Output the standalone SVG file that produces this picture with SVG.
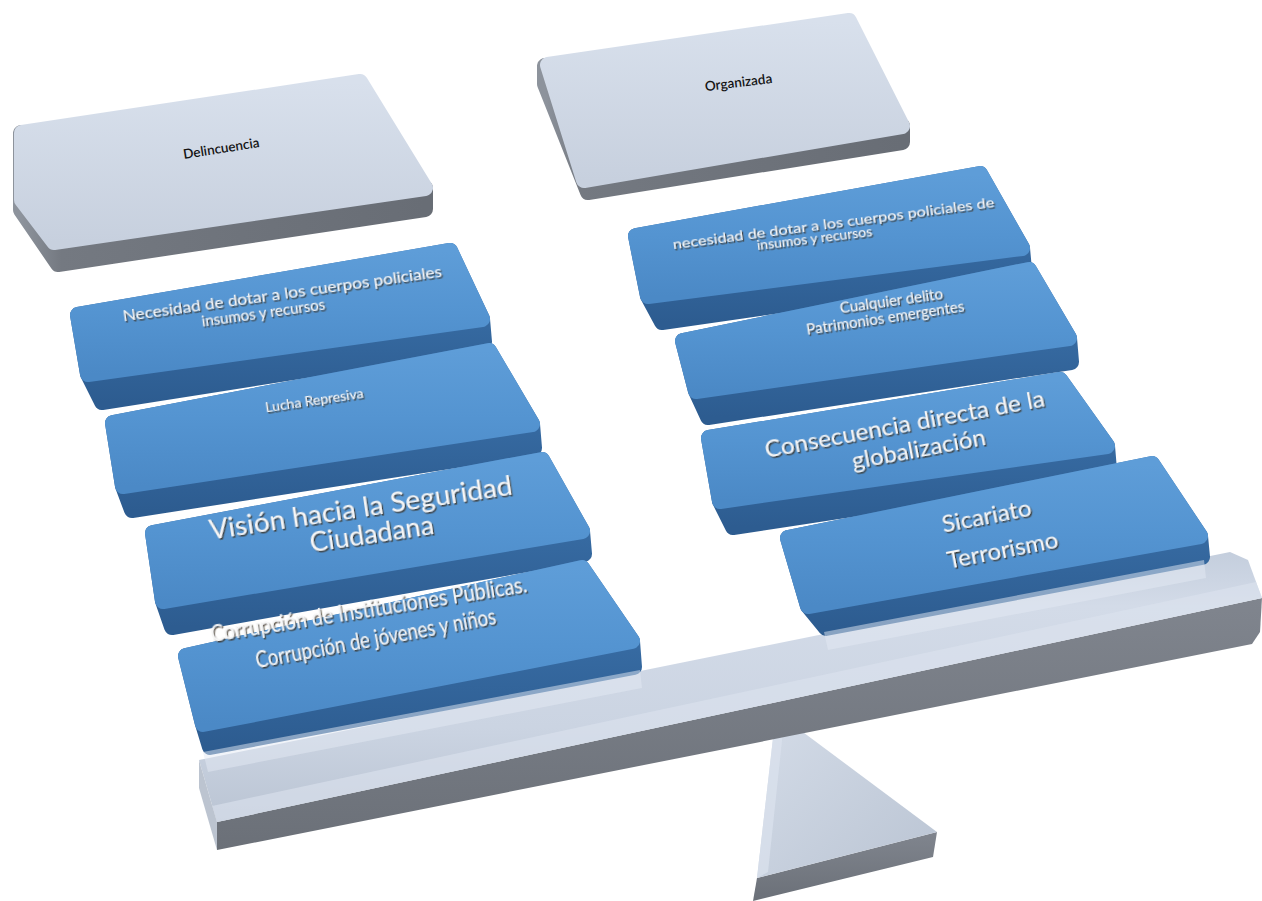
<svg xmlns="http://www.w3.org/2000/svg" width="1262" height="901" viewBox="0 0 1262 901">
  <defs>
    <linearGradient id="blueTop" x1="0" y1="0" x2="0" y2="1">
      <stop offset="0" stop-color="#5E9DD8"/>
      <stop offset="0.5" stop-color="#5494D1"/>
      <stop offset="1" stop-color="#4B89C6"/>
    </linearGradient>
    <linearGradient id="blueSide" x1="0" y1="0" x2="0" y2="1">
      <stop offset="0" stop-color="#3E76B0"/>
      <stop offset="1" stop-color="#2D5C90"/>
    </linearGradient>
    <linearGradient id="greyTop" x1="0" y1="0" x2="0" y2="1">
      <stop offset="0" stop-color="#D8E0EC"/>
      <stop offset="1" stop-color="#C7D0DE"/>
    </linearGradient>
    <linearGradient id="greyBody" x1="0" y1="0" x2="1" y2="0">
      <stop offset="0" stop-color="#8D939C"/>
      <stop offset="0.1" stop-color="#747981"/>
      <stop offset="1" stop-color="#686D75"/>
    </linearGradient>
    <linearGradient id="beamTop" x1="0" y1="0" x2="0" y2="1">
      <stop offset="0" stop-color="#C4CEDD"/>
      <stop offset="0.2" stop-color="#D3DBE8"/>
      <stop offset="0.65" stop-color="#CBD4E2"/>
      <stop offset="1" stop-color="#BAC4D3"/>
    </linearGradient>
    <linearGradient id="beamFront" x1="0" y1="0" x2="0" y2="1">
      <stop offset="0" stop-color="#80858E"/>
      <stop offset="1" stop-color="#6B7078"/>
    </linearGradient>
    <linearGradient id="pivotTop" x1="0" y1="0" x2="1" y2="1">
      <stop offset="0" stop-color="#D4DCE8"/>
      <stop offset="1" stop-color="#BAC4D3"/>
    </linearGradient>
    <filter id="txtShadow" x="-10%" y="-40%" width="120%" height="180%">
      <feDropShadow dx="1.2" dy="1.6" stdDeviation="0.6" flood-color="#3A2E22" flood-opacity="0.85"/>
    </filter>
    <style>
      .top-blue{fill:url(#blueTop);stroke:url(#blueTop);stroke-width:16;stroke-linejoin:round}
      .side-blue{fill:url(#blueSide);stroke:url(#blueSide);stroke-width:16;stroke-linejoin:round}
      .top-grey{fill:url(#greyTop);stroke:url(#greyTop);stroke-width:16;stroke-linejoin:round}
      .body-grey{fill:url(#greyBody);stroke:url(#greyBody);stroke-width:16;stroke-linejoin:round}
      .lbl{font-family:Lato,"Open Sans","Liberation Sans",sans-serif;fill:#F6F6F6;text-anchor:middle;filter:url(#txtShadow)}
      .hdr{font-family:Lato,"Open Sans","Liberation Sans",sans-serif;fill:#141414;text-anchor:middle;font-size:13.5px;font-weight:600}
      .glass{fill:#E4EAF3;opacity:0.5}
    </style>
  </defs>

  <rect width="1262" height="901" fill="#FFFFFF"/>

  <!-- fulcrum -->
  <g id="fulcrum">
    <polygon points="757,878 937,832 933,857 753,901" fill="url(#beamFront)"/>
    <polygon points="776,712 937,832 757,878" fill="url(#pivotTop)"/>
    <polygon points="776,712 757,878 768,872 784,722" fill="#DCE3EE" opacity="0.7"/>
  </g>

  <!-- balance beam -->
  <g id="beam">
    <polygon points="217,822 1262,598 1260,632 1252,644 217,850" fill="url(#beamFront)"/>
    <polygon points="199,760 1230,552 1248,560 1262,598 217,822" fill="url(#beamTop)"/>
    <polygon points="212,806 1256,582 1262,598 217,822" fill="#DCE3EE" opacity="0.6"/>
    <polygon points="199,760 217,822 217,850 199,788" fill="#BCC4D0"/>
  </g>

  <!-- header: Delincuencia -->
  <g id="n-delincuencia">
    <polygon class="body-grey" points="21,133 21,210 58,264 425,209 425,188"/>
    <polygon class="top-grey" points="22,133 360,82 425,188 54,242 22,200"/>
    <text class="hdr" transform="translate(222,153) rotate(-9)">Delincuencia</text>
  </g>

  <!-- header: Organizada -->
  <g id="n-organizada">
    <polygon class="body-grey" points="545,66 545,84 588,192 902,142 902,126"/>
    <polygon class="top-grey" points="548,65 849,21 902,126 584,180"/>
    <text class="hdr" transform="translate(739,87) rotate(-7)">Organizada</text>
  </g>

  <!-- right column -->
  <g id="n-r1">
    <polygon class="side-blue" points="636,236 980,174 1022,248 1024,270 662,322 648,296"/>
    <polygon class="top-blue" points="636,236 980,174 1022,248 648,296"/>
    <text class="lbl" font-size="14" transform="translate(834,228) rotate(-7.5)" textLength="324" lengthAdjust="spacingAndGlyphs">necesidad de dotar a los cuerpos policiales de</text>
    <text class="lbl" font-size="14" transform="translate(815,243) rotate(-7)">insumos y recursos</text>
  </g>
  <g id="n-r2">
    <polygon class="side-blue" points="683,341 1029,270 1069,338 1071,362 708,417 696,391"/>
    <polygon class="top-blue" points="683,341 1029,270 1069,338 696,391"/>
    <text class="lbl" font-size="15" transform="translate(892,306) rotate(-8)">Cualquier delito</text>
    <text class="lbl" font-size="15" transform="translate(886,323) rotate(-8.5)">Patrimonios emergentes</text>
  </g>
  <g id="n-r3">
    <polygon class="side-blue" points="709,438 1060,380 1107,446 1109,470 733,527 720,501"/>
    <polygon class="top-blue" points="709,438 1060,380 1107,446 720,501"/>
    <text class="lbl" font-size="24" transform="translate(906,432) rotate(-10.5)" textLength="284" lengthAdjust="spacingAndGlyphs">Consecuencia directa de la</text>
    <text class="lbl" font-size="24" transform="translate(920,457) rotate(-10.5)">globalización</text>
  </g>
  <g id="n-r4">
    <polygon class="side-blue" points="788,538 1152,464 1200,536 1202,557 826,628 808,606"/>
    <polygon class="top-blue" points="788,538 1152,464 1200,536 808,606"/>
    <text class="lbl" font-size="24" transform="translate(988,524) rotate(-11)">Sicariato</text>
    <text class="lbl" font-size="24" transform="translate(1004,558) rotate(-11)">Terrorismo</text>
    <polygon class="glass" points="824,632 1204,560 1206,578 828,650"/>
  </g>

  <!-- left column -->
  <g id="n-l1">
    <polygon class="side-blue" points="78,315 450,251 482,319 484,342 102,402 88,374"/>
    <polygon class="top-blue" points="78,315 450,251 482,319 88,374"/>
    <text class="lbl" font-size="15" transform="translate(283,299) rotate(-8)" textLength="322" lengthAdjust="spacingAndGlyphs">Necesidad de dotar a los cuerpos policiales</text>
    <text class="lbl" font-size="15" transform="translate(264,318) rotate(-8)">insumos y recursos</text>
  </g>
  <g id="n-l2">
    <polygon class="side-blue" points="113,423 489,351 532,424 534,448 132,510 123,486"/>
    <polygon class="top-blue" points="113,423 489,351 532,424 123,486"/>
    <text class="lbl" font-size="14" transform="translate(315,405) rotate(-8.5)">Lucha Represiva</text>
  </g>
  <g id="n-l3">
    <polygon class="side-blue" points="153,533 542,460 582,531 584,554 172,627 163,601"/>
    <polygon class="top-blue" points="153,533 542,460 582,531 163,601"/>
    <text class="lbl" font-size="27" transform="translate(362,517) rotate(-8.5)" textLength="306" lengthAdjust="spacingAndGlyphs">Visión hacia la Seguridad</text>
    <text class="lbl" font-size="27" transform="translate(373,543) rotate(-8.5)">Ciudadana</text>
  </g>
  <g id="n-l4">
    <polygon class="side-blue" points="186,656 582,568 632,641 634,667 210,747 203,724"/>
    <polygon class="top-blue" points="186,656 582,568 632,641 203,724"/>
    <text class="lbl" font-size="23" transform="translate(370,617) rotate(-9)" textLength="320" lengthAdjust="spacingAndGlyphs">Corrupción de Instituciones Públicas.</text>
    <text class="lbl" font-size="23" transform="translate(377,646) rotate(-10.5)" textLength="244" lengthAdjust="spacingAndGlyphs">Corrupción de jóvenes y niños</text>
    <polygon class="glass" points="203,752 640,670 642,688 208,772"/>
  </g>
</svg>
